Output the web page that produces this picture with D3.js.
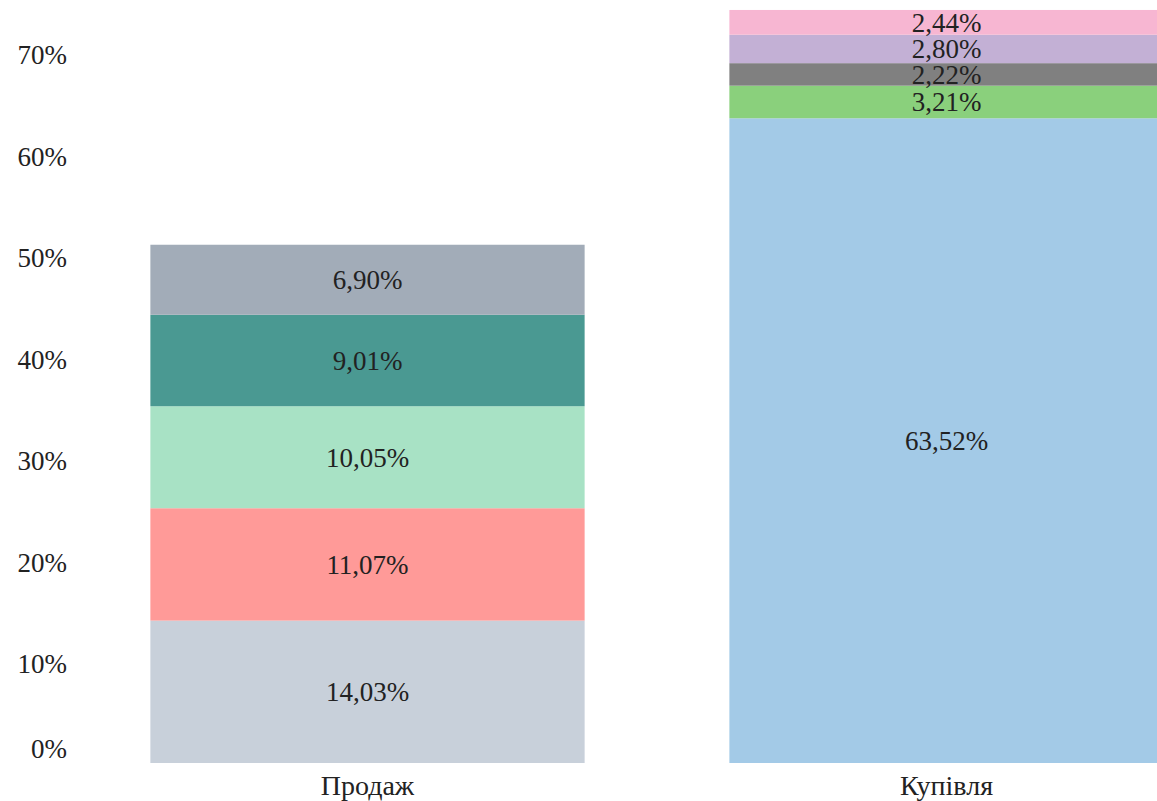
<!DOCTYPE html>
<meta charset="utf-8">
<style>
body { margin: 0; background: #fff; }
svg text {
  font-family: "Liberation Serif", "DejaVu Serif", serif;
  fill: #222;
}
.axis path, .axis line { display: none; }
.axis--y text { font-size: 27px; }
.axis--x text { font-size: 28px; }
.seg-label { font-size: 27px; }
</style>
<body>
<div id="chart"></div>
<script src="https://cdn.jsdelivr.net/npm/d3@7"></script>
<script>
// categories and segments, bottom to top
var categories = ["Продаж", "Купівля"];
var saleValues = [14.03, 11.07, 10.05, 9.01, 6.90];
var saleColors = ["#c8d0da", "#ff9a98", "#a8e2c5", "#4a9992", "#a2acb8"];
var buyValues = [63.52, 3.21, 2.22, 2.80, 2.44];
var buyColors = ["#a3cae7", "#8ad07c", "#808080", "#c3b0d5", "#f7b6d2"];
var yTicks = [0, 10, 20, 30, 40, 50, 60, 70];

var width = 1157, height = 801;

// build stacked segments
function stackUp(cat, values, colors) {
  var acc = 0;
  return values.map(function(v, i) {
    var seg = {cat: cat, y0: acc, y1: acc + v, v: v, color: colors[i]};
    acc += v;
    return seg;
  });
}
var segments = stackUp(categories[0], saleValues, saleColors)
  .concat(stackUp(categories[1], buyValues, buyColors));

var svg = d3.select("#chart").append("svg")
  .attr("width", width)
  .attr("height", height);

var x = d3.scaleBand()
  .domain(categories)
  .range([78, 1236])
  .paddingInner(0.25)
  .paddingOuter(0.125);

var y = d3.scaleLinear()
  .domain([0, 70])
  .range([763, 52.5]);

var fmt = function(v) { return v.toFixed(2).replace(".", ",") + "%"; };

svg.selectAll("rect.seg")
  .data(segments)
  .enter().append("rect")
  .attr("class", "seg")
  .attr("x", function(d) { return x(d.cat); })
  .attr("width", x.bandwidth())
  .attr("y", function(d) { return y(d.y1); })
  .attr("height", function(d) { return y(d.y0) - y(d.y1); })
  .attr("fill", function(d) { return d.color; });

svg.selectAll("text.seg-label")
  .data(segments)
  .enter().append("text")
  .attr("class", "seg-label")
  .attr("x", function(d) { return x(d.cat) + x.bandwidth() / 2; })
  .attr("y", function(d) { return (y(d.y0) + y(d.y1)) / 2; })
  .attr("dy", "0.35em")
  .attr("text-anchor", "middle")
  .text(function(d) { return fmt(d.v); });

// y axis labels
var yAxis = svg.append("g")
  .attr("class", "axis axis--y")
  .attr("transform", "translate(67,0)")
  .call(d3.axisLeft(y).tickValues(yTicks).tickSize(0).tickPadding(0)
    .tickFormat(function(d) { return d + "%"; }));
yAxis.selectAll("text")
  .attr("dy", function(d) { return d === 0 ? "-0.22em" : "0.42em"; });

// x axis labels
svg.append("g")
  .attr("class", "axis axis--x")
  .attr("transform", "translate(0,763)")
  .call(d3.axisBottom(x).tickSize(0).tickPadding(12));
</script>
</body>
